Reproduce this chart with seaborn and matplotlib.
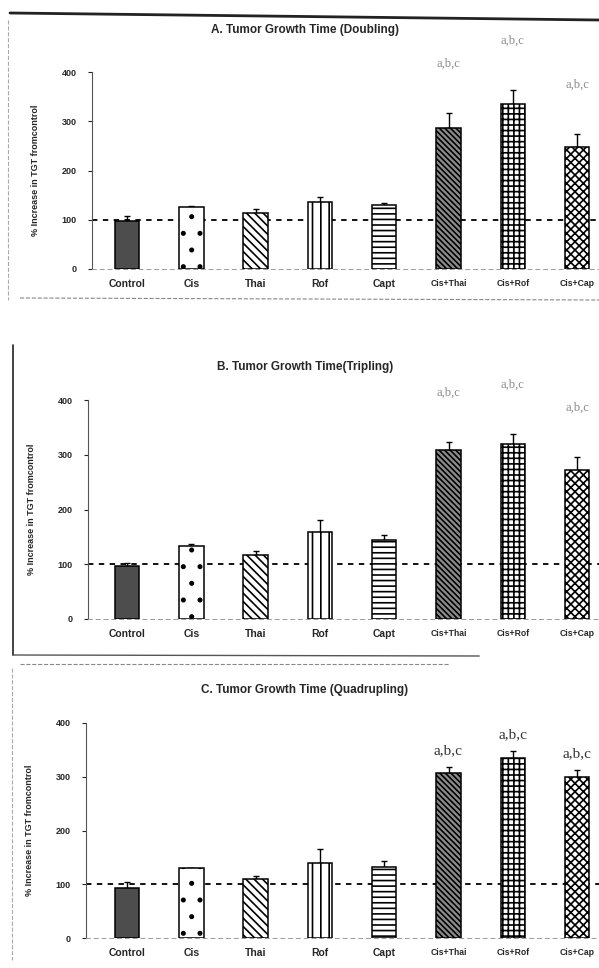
import numpy as np
import pandas as pd
import seaborn as sns
import matplotlib.pyplot as plt
from matplotlib.lines import Line2D

groups = ["Control", "Cis", "Thai", "Rof", "Capt", "Cis+Thai", "Cis+Rof", "Cis+Cap"]

doubling_mean = [98, 126, 113, 136, 130, 286, 335, 248]
doubling_err = [9, 2, 9, 10, 4, 30, 28, 26]
tripling_mean = [97, 133, 117, 158, 144, 308, 320, 272]
tripling_err = [6, 4, 8, 22, 9, 16, 17, 24]
quad_mean = [93, 130, 110, 140, 132, 307, 335, 300]
quad_err = [11, 0, 6, 26, 12, 11, 13, 13]

titles = ["A. Tumor Growth Time (Doubling)",
          "B. Tumor Growth Time(Tripling)",
          "C. Tumor Growth Time (Quadrupling)"]
sig_label = "a,b,c"
sig_groups = ["Cis+Thai", "Cis+Rof", "Cis+Cap"]
y_ticks = [0, 100, 200, 300, 400]
ylabel = "% Increase in TGT fromcontrol"

fills = ["#4d4d4d", "white", "white", "white", "white", "#8c8c8c", "white", "white"]
hatches = [None, ".", "\\\\\\\\", "||", "---", "\\\\\\\\\\\\", "+++", "xxxx"]

sns.set_theme(style="white")
plt.rcParams["font.family"] = ["Liberation Sans", "DejaVu Sans"]
plt.rcParams["hatch.linewidth"] = 1.2
plt.rcParams["hatch.color"] = "black"

W, H = 599, 968
fig = plt.figure(figsize=(W / 100, H / 100), dpi=100)

# panel boxes (px): left, zero line, top(400) line
panels = [(92, 269, 72), (88, 619, 400), (86, 938, 723)]
means = [doubling_mean, tripling_mean, quad_mean]
errs = [doubling_err, tripling_err, quad_err]
title_y = [30, 367, 690]
ann_off = [100, 90, 30]
ann_color = ["#8a8a8a", "#8a8a8a", "#333333"]
ann_size = [9, 9, 11]

for i in range(3):
    left, y0, y400 = panels[i]
    ax = fig.add_axes([left / W, 1 - y0 / H, 1 - left / W, (y0 - y400) / H])
    ax.axhline(100, color="black", ls=(0, (3, 3)), lw=1.3, zorder=0.5)
    df = pd.DataFrame({"group": groups, "value": means[i]})
    sns.barplot(data=df, x="group", y="value", hue="group", palette=fills,
                width=0.38, edgecolor="black", linewidth=1.1, legend=False, ax=ax)
    for patch, h in zip(ax.patches, hatches):
        patch.set_zorder(2)
        if h:
            patch.set_hatch(h)
    xs = np.arange(len(groups))
    e = np.array(errs[i])
    ax.errorbar(xs, means[i], yerr=[np.zeros_like(e), e], fmt="none",
                ecolor="black", elinewidth=1.0, capsize=2.5, capthick=1.0, zorder=1)
    ax.set_xlim(-(127 - left) / 64.3, (W - 127) / 64.3)
    ax.set_ylim(0, 400)
    ax.set_yticks(y_ticks)
    ax.set_yticklabels([str(t) for t in y_ticks], fontsize=6.5, fontweight="bold")
    ax.tick_params(axis="y", length=3, width=0.8, left=True, pad=8)
    ax.tick_params(axis="x", length=0, pad=7)
    labels = ax.get_xticklabels()
    for j, lab in enumerate(labels):
        lab.set_fontweight("bold")
        lab.set_fontsize(7.5 if j < 5 else 6.2)
    ax.set_xlabel("")
    ax.set_ylabel(ylabel, fontsize=6.5, fontweight="bold")
    ax.yaxis.set_label_coords(-52 / (W - left), 0.5)
    for s in ["top", "right"]:
        ax.spines[s].set_visible(False)
    ax.spines["bottom"].set_linestyle((0, (4, 4)))
    ax.spines["bottom"].set_color("#999999")
    ax.spines["bottom"].set_linewidth(0.7)
    ax.spines["left"].set_color("#555555")
    ax.spines["left"].set_linewidth(0.8)
    ax.patch.set_alpha(0)
    for g in sig_groups:
        k = groups.index(g)
        ax.text(k, means[i][k] + errs[i][k] + ann_off[i], sig_label,
                ha="center", va="center", family=["Liberation Serif", "DejaVu Serif"],
                fontsize=ann_size[i], color=ann_color[i], clip_on=False)
    fig.text(0.509, 1 - title_y[i] / H, titles[i], ha="center", va="center",
             fontsize=8.5, fontweight="bold")

# scan frame lines
frame = [
    ([10 / W, 1.0], [1 - 13 / H, 1 - 20 / H], "#222222", 2.0, "-"),
    ([8 / W, 8 / W], [1 - 20 / H, 1 - 300 / H], "#aaaaaa", 0.8, "--"),
    ([20 / W, 1.0], [1 - 298 / H, 1 - 300 / H], "#888888", 0.8, "--"),
    ([13 / W, 13 / W], [1 - 345 / H, 1 - 655 / H], "#222222", 1.2, "-"),
    ([13 / W, 0.8], [1 - 655 / H, 1 - 656 / H], "#555555", 1.0, "-"),
    ([20 / W, 0.75], [1 - 664 / H, 1 - 664 / H], "#888888", 0.8, "--"),
    ([12 / W, 12 / W], [1 - 668 / H, 1 - 960 / H], "#aaaaaa", 0.8, "--"),
]
for xs_, ys_, c, lw, ls in frame:
    fig.add_artist(Line2D(xs_, ys_, color=c, lw=lw, ls=ls))

fig.savefig("out.png", dpi=100)
